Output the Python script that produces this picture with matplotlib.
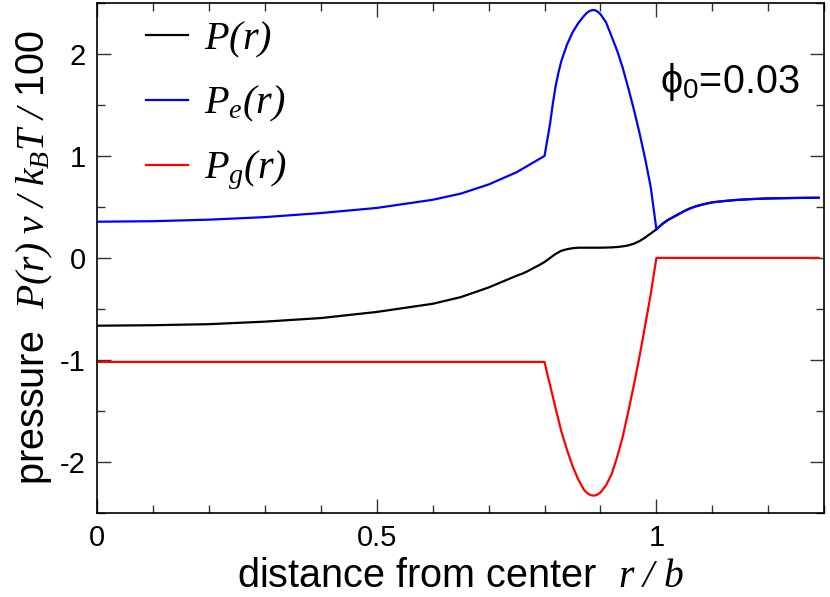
import matplotlib
matplotlib.use("Agg")
import matplotlib.pyplot as plt
from matplotlib.ticker import MultipleLocator

plt.rcParams['font.family'] = ['Liberation Sans', 'DejaVu Sans']
plt.rcParams['mathtext.fontset'] = 'custom'
plt.rcParams['mathtext.rm'] = 'Liberation Serif:italic'
plt.rcParams['mathtext.it'] = 'Liberation Serif:italic'
plt.rcParams['mathtext.sf'] = 'Liberation Sans'

# total pressure P(r)
r_P = [0, 0.1, 0.2, 0.3, 0.4, 0.5, 0.6, 0.65, 0.7, 0.75, 0.76, 0.77, 0.78, 0.79, 0.80,
       0.81, 0.82, 0.83, 0.84, 0.85, 0.86, 0.90, 0.92, 0.93, 0.94, 0.95, 0.96, 0.97,
       0.98, 0.99, 1.0, 1.01, 1.02, 1.03, 1.04, 1.05, 1.06, 1.07, 1.08, 1.09, 1.10,
       1.12, 1.14, 1.17, 1.2, 1.25, 1.29]
P_tot = [-0.665, -0.66, -0.65, -0.625, -0.59, -0.53, -0.45, -0.385, -0.29, -0.175,
         -0.155, -0.13, -0.10, -0.072, -0.04, 0.0, 0.04, 0.07, 0.085, 0.095, 0.10, 0.10,
         0.103, 0.107, 0.113, 0.123, 0.14, 0.165, 0.20, 0.24, 0.28, 0.33, 0.37, 0.40,
         0.43, 0.46, 0.485, 0.505, 0.52, 0.533, 0.545, 0.557, 0.567, 0.577, 0.583, 0.588,
         0.59]

# electrostatic pressure P_e(r)
r_e = [0, 0.1, 0.2, 0.3, 0.4, 0.5, 0.6, 0.65, 0.7, 0.75, 0.8, 0.805, 0.81, 0.815, 0.82,
       0.825, 0.83, 0.84, 0.85, 0.86, 0.87, 0.875, 0.88, 0.885, 0.89, 0.895, 0.90, 0.91,
       0.92, 0.93, 0.94, 0.95, 0.96, 0.97, 0.98, 0.99, 1.0, 1.01, 1.02, 1.03, 1.04, 1.05,
       1.06, 1.07, 1.08, 1.09, 1.10, 1.12, 1.14, 1.17, 1.2, 1.25, 1.29]
P_e = [0.355, 0.36, 0.375, 0.40, 0.44, 0.49, 0.57, 0.63, 0.72, 0.84, 1.00, 1.16, 1.32,
       1.52, 1.69, 1.82, 1.93, 2.09, 2.21, 2.30, 2.37, 2.40, 2.42, 2.43, 2.43, 2.415,
       2.39, 2.31, 2.17, 2.03, 1.86, 1.66, 1.45, 1.22, 0.97, 0.69, 0.28, 0.33, 0.37,
       0.40, 0.43, 0.46, 0.485, 0.505, 0.52, 0.533, 0.545, 0.557, 0.567, 0.577, 0.583,
       0.588, 0.59]

# gas pressure P_g(r)
r_g = [0, 0.8, 0.805, 0.81, 0.82, 0.83, 0.84, 0.85, 0.86, 0.87, 0.875, 0.88, 0.885,
       0.89, 0.895, 0.90, 0.91, 0.92, 0.93, 0.94, 0.95, 0.96, 0.97, 0.98, 0.99, 1.0, 1.29]
P_g = [-1.02, -1.02, -1.14, -1.25, -1.48, -1.70, -1.88, -2.04, -2.17, -2.27, -2.30,
       -2.32, -2.33, -2.33, -2.32, -2.30, -2.23, -2.12, -1.95, -1.75, -1.50, -1.24,
       -0.96, -0.66, -0.35, 0.0, 0.0]

fig = plt.figure(figsize=(8.3, 5.97), dpi=100)
ax = fig.add_axes([0.117, 0.141, 0.876, 0.854])

lw = 1.6
ax.plot(r_P, P_tot, color='black', lw=lw, label=r'$P(r)$')
ax.plot(r_e, P_e, color='#0000ff', lw=lw, label=r'$P_e(r)$')
ax.plot(r_g, P_g, color='#ff0000', lw=lw, label=r'$P_g(r)$')

ax.set_xlim(0, 1.3)
ax.set_ylim(-2.5, 2.5)
ax.xaxis.set_minor_locator(MultipleLocator(0.1))
ax.yaxis.set_minor_locator(MultipleLocator(0.5))
ax.set_xticks([0, 0.5, 1])
ax.set_xticklabels(['0', '0.5', '1'])
ax.set_yticks([-2, -1, 0, 1, 2])
ax.set_yticklabels(['-2', '-1', '0', '1', '2'])

ax.tick_params(which='both', direction='in', top=True, right=True, labelsize=21,
               width=1.0, color='#333333')
ax.tick_params(which='major', length=10, pad=8)
ax.tick_params(which='minor', length=5.5)
for s in ax.spines.values():
    s.set_linewidth(1.2)

ax.set_xlabel(r'distance from center  $r\ /\ b$', fontsize=28.5, labelpad=4)
ax.set_ylabel(r'pressure  $P(r)\ v\ /\ k_BT\ /$ 100', fontsize=28.5, labelpad=4)

leg = ax.legend(loc='upper left', bbox_to_anchor=(0.045, 1.0), frameon=False,
                fontsize=29, handlelength=1.05, handletextpad=0.4, labelspacing=0.6,
                borderaxespad=0.0)

ax.text(0.774, 0.845, r'ϕ$_\mathsf{0}$=0.03', transform=ax.transAxes,
        fontsize=28.5, ha='left', va='center')

fig.savefig('out.png', dpi=100)
